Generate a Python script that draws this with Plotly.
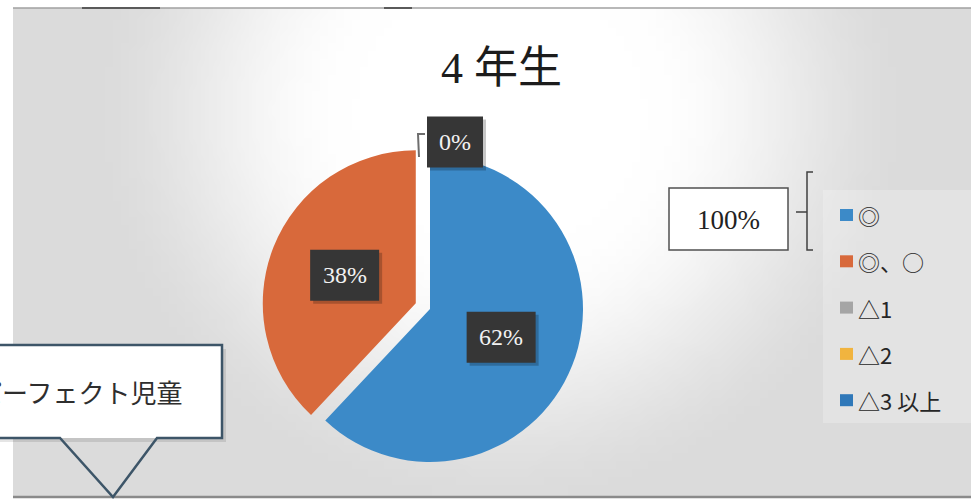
import math
import struct
import zlib
import base64

import numpy as np
import plotly.graph_objects as go

W, H = 971, 499

# ---- chart data ----
categories = ["◎", "◎、○", "△1", "△2", "△3 以上"]
shares = [62, 38, 0, 0, 0]
slice_colors = ["#3c8ac8", "#d8693b", "#a5a5a5", "#f1b43f", "#2f78b9"]
pulls = [0, 0.1, 0, 0, 0]
title_text = "4 年生"
total_text = "100%"
callout_text = "パーフェクト児童"

# pie placement (pixels): centre and radius of the un-pulled pie
CX, CY, R = 430, 309, 153

SERIF = "Liberation Serif, Noto Sans CJK JP, serif"
SANS_JP = "Noto Sans CJK JP, sans-serif"


def px(x):
    return x / W


def py(y):
    return 1 - y / H


def png_data_uri(arr):
    h, w, _ = arr.shape
    raw = b"".join(b"\x00" + arr[i].tobytes() for i in range(h))

    def chunk(tag, data):
        c = struct.pack(">I", len(data)) + tag + data
        return c + struct.pack(">I", zlib.crc32(tag + data) & 0xFFFFFFFF)

    png = (b"\x89PNG\r\n\x1a\n"
           + chunk(b"IHDR", struct.pack(">IIBBBBB", w, h, 8, 2, 0, 0, 0))
           + chunk(b"IDAT", zlib.compress(raw, 9))
           + chunk(b"IEND", b""))
    return "data:image/png;base64," + base64.b64encode(png).decode()


# slide background: bright centre fading to light grey towards the edges
SX0, SY0, SX1, SY1 = 13, 8, 971, 496
gw, gh = 120, 62
gx = np.linspace(SX0, SX1, gw)[None, :]
gy = np.linspace(SY0, SY1, gh)[:, None]
d = np.sqrt(((gx - 500) / 430) ** 2 + ((gy - 110) / 420) ** 2)
t = np.clip((d - 0.35) / 0.65, 0, 1)
t = t * t * (3 - 2 * t)
val = 255 - 36 * t
bg = np.stack([val, val, val], axis=-1).astype(np.uint8)
bg_uri = png_data_uri(bg)

fig = go.Figure()

half = R * (1 + max(pulls))
fig.add_trace(go.Pie(
    labels=categories,
    values=shares,
    sort=False,
    direction="clockwise",
    rotation=0,
    pull=pulls,
    marker=dict(colors=slice_colors, line=dict(width=0)),
    textinfo="none",
    hoverinfo="label+percent",
    showlegend=False,
    domain=dict(x=[px(CX - half), px(CX + half)],
                y=[py(CY + half), py(CY - half)]),
))

shapes = []
annotations = []

# scan edges of the slide
shapes.append(dict(type="line", xref="paper", yref="paper",
                   x0=px(SX0), x1=1, y0=py(SY0), y1=py(SY0),
                   line=dict(color="#a0a0a0", width=1.5)))
shapes.append(dict(type="line", xref="paper", yref="paper",
                   x0=px(SX0), x1=1, y0=py(SY1 + 1), y1=py(SY1 + 1),
                   line=dict(color="#8a8a8a", width=2.5)))
for a, b in [(82, 160), (384, 412)]:
    shapes.append(dict(type="line", xref="paper", yref="paper",
                       x0=px(a), x1=px(b), y0=py(8), y1=py(8),
                       line=dict(color="#5a5a5a", width=2)))

# title
annotations.append(dict(text=title_text, x=px(501), y=py(68), xref="paper", yref="paper",
                        showarrow=False, xanchor="center", yanchor="middle",
                        font=dict(family=SERIF, size=44, color="#1c1c1c")))


def label_box(text, x, y):
    bw, bh = 30 + 13 * len(text), 51
    # soft drop shadow, then the dark box, then the text
    shapes.append(dict(type="rect", xref="paper", yref="paper",
                       x0=px(x - bw / 2 + 3), x1=px(x + bw / 2 + 3),
                       y0=py(y + bh / 2 + 3), y1=py(y - bh / 2 + 3),
                       fillcolor="rgba(0,0,0,0.22)", line=dict(width=0)))
    shapes.append(dict(type="rect", xref="paper", yref="paper",
                       x0=px(x - bw / 2), x1=px(x + bw / 2),
                       y0=py(y + bh / 2), y1=py(y - bh / 2),
                       fillcolor="#363636", line=dict(width=0)))
    annotations.append(dict(text=text, x=px(x), y=py(y), xref="paper", yref="paper",
                            showarrow=False, xanchor="center", yanchor="middle",
                            font=dict(family=SERIF, size=24, color="#f2f2f2")))


# data labels: inside labels sit halfway out along each slice's mid angle
total = sum(shares)
cum = 0
zero_done = False
for v, p in zip(shares, pulls):
    pct = f"{round(100 * v / total)}%"
    if v > 0:
        mid = 2 * math.pi * (cum + v / 2) / total
        dist = (p + 0.5) * R
        label_box(pct, CX + dist * math.sin(mid), CY - dist * math.cos(mid))
    elif not zero_done:
        # zero-size slices sit at 12 o'clock; label outside with a leader line
        zero_done = True
        shapes.append(dict(type="path", xref="paper", yref="paper",
                           path=f"M {px(419)},{py(157)} L {px(418)},{py(134)} L {px(425)},{py(134)}",
                           line=dict(color="#6e6e6e", width=2)))
        label_box(pct, CX + 25, CY - R - 14)
    cum += v

# total box with bracket
shapes.append(dict(type="rect", xref="paper", yref="paper",
                   x0=px(669), x1=px(788), y0=py(188), y1=py(250),
                   fillcolor="white", line=dict(color="#505050", width=1.5)))
annotations.append(dict(text=total_text, x=px(728.5), y=py(220), xref="paper", yref="paper",
                        showarrow=False, xanchor="center", yanchor="middle",
                        font=dict(family=SERIF, size=27, color="#222222")))
shapes.append(dict(type="path", xref="paper", yref="paper",
                   path=(f"M {px(813)},{py(172)} L {px(807)},{py(172)} L {px(807)},{py(250)} "
                         f"L {px(813)},{py(250)} M {px(796)},{py(212)} L {px(807)},{py(212)}"),
                   line=dict(color="#404040", width=1.5)))

# legend
shapes.append(dict(type="rect", xref="paper", yref="paper", layer="below",
                   x0=px(823), x1=1, y0=py(190), y1=py(423),
                   fillcolor="rgba(255,255,255,0.22)", line=dict(width=0)))
LEG_Y0, LEG_STEP = 215, 46.3
for i, (name, col) in enumerate(zip(categories, slice_colors)):
    yy = LEG_Y0 + i * LEG_STEP
    shapes.append(dict(type="rect", xref="paper", yref="paper",
                       x0=px(840), x1=px(853), y0=py(yy + 6), y1=py(yy - 6),
                       fillcolor=col, line=dict(width=0)))
    annotations.append(dict(text=name, x=px(856), y=py(yy), xref="paper", yref="paper",
                            showarrow=False, xanchor="left", yanchor="middle",
                            font=dict(family=SANS_JP, size=22, color="#262626")))

# callout balloon at the lower left
shapes.append(dict(type="rect", xref="paper", yref="paper",
                   x0=px(-10), x1=px(226), y0=py(442), y1=py(349),
                   fillcolor="rgba(0,0,0,0.10)", line=dict(width=0)))
shapes.append(dict(type="rect", xref="paper", yref="paper",
                   x0=px(-10), x1=px(222), y0=py(438), y1=py(345),
                   fillcolor="white", line=dict(width=0)))
shapes.append(dict(type="path", xref="paper", yref="paper",
                   path=(f"M {px(-10)},{py(345)} L {px(222)},{py(345)} L {px(222)},{py(438)} "
                         f"L {px(157)},{py(438)} L {px(113)},{py(497)} L {px(60)},{py(438)} "
                         f"L {px(-10)},{py(438)}"),
                   line=dict(color="#3d5568", width=2.5)))
annotations.append(dict(text=callout_text, x=px(184), y=py(391), xref="paper", yref="paper",
                        showarrow=False, xanchor="right", yanchor="middle",
                        font=dict(family=SANS_JP, size=26, color="#2e2e2e")))

fig.update_layout(
    width=W, height=H,
    margin=dict(l=0, r=0, t=0, b=0),
    paper_bgcolor="white",
    plot_bgcolor="white",
    showlegend=False,
    images=[dict(source=bg_uri, xref="paper", yref="paper",
                 x=px(SX0), y=py(SY0), sizex=px(SX1) - px(SX0), sizey=py(SY0) - py(SY1),
                 sizing="stretch", xanchor="left", yanchor="top", layer="below")],
    shapes=shapes,
    annotations=annotations,
)

fig.write_html("out.html")
